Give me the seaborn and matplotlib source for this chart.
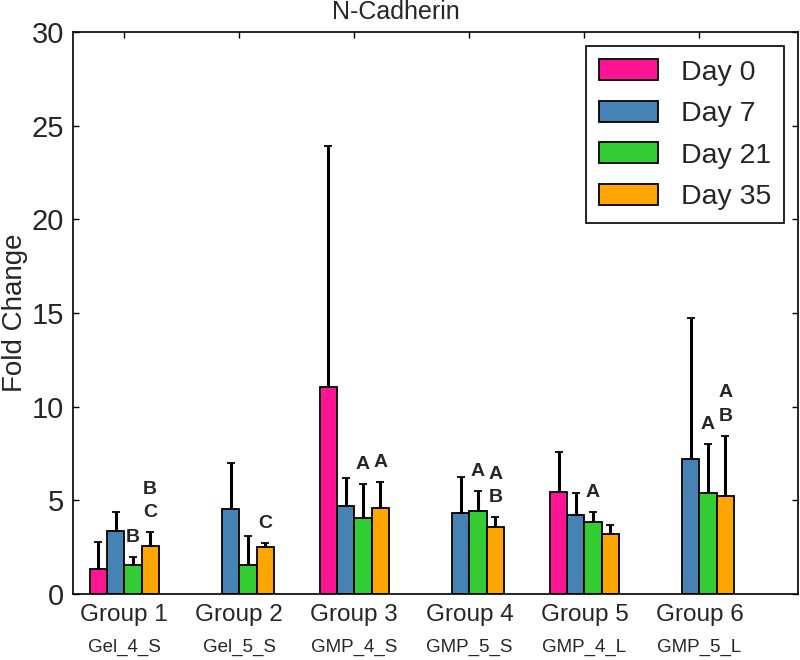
import numpy as np
import pandas as pd
import matplotlib
matplotlib.use("Agg")
import matplotlib.pyplot as plt
import seaborn as sns

groups = ["Group 1", "Group 2", "Group 3", "Group 4", "Group 5", "Group 6"]
sublabels = ["Gel_4_S", "Gel_5_S", "GMP_4_S", "GMP_5_S", "GMP_4_L", "GMP_5_L"]
days = ["Day 0", "Day 7", "Day 21", "Day 35"]

day0 = [1.33, np.nan, 11.07, np.nan, 5.46, np.nan]
day7 = [3.36, 4.54, 4.70, 4.31, 4.22, 7.19]
day21 = [1.55, 1.55, 4.06, 4.45, 3.83, 5.39]
day35 = [2.56, 2.49, 4.61, 3.58, 3.20, 5.23]

sd0 = [1.45, np.nan, 12.87, np.nan, 2.14, np.nan]
sd7 = [1.03, 2.44, 1.49, 1.95, 1.19, 7.53]
sd21 = [0.43, 1.53, 1.83, 1.07, 0.57, 2.60]
sd35 = [0.73, 0.25, 1.37, 0.51, 0.48, 3.22]

letters21 = ["B", "", "A", "A", "A", "A"]
letters35 = ["B\nC", "C", "A", "A\nB", "", "A\nB"]

colors = ["#FF1493", "#4682B4", "#32CD32", "#FFA500"]

values = [day0, day7, day21, day35]
sds = [sd0, sd7, sd21, sd35]
letters = [[""] * 6, [""] * 6, letters21, letters35]

rows = []
for d, vals, errs, labs in zip(days, values, sds, letters):
    for g, v, e, l in zip(groups, vals, errs, labs):
        rows.append({"group": g, "day": d, "value": v, "sd": e, "label": l})
df = pd.DataFrame(rows)

sns.set_style("ticks")
plt.rcParams["font.family"] = ["Liberation Sans", "DejaVu Sans"]

fig = plt.figure(figsize=(8, 6.6), dpi=100)
ax = fig.add_axes([0.091, 0.1, 0.9065, 0.8515])

sns.barplot(data=df, x="group", y="value", hue="day", order=groups,
            hue_order=days, palette=colors, width=0.6, edgecolor="black",
            linewidth=1.3, errorbar=None, ax=ax, saturation=1)

lookup = {(r.group, r.day): r for r in df.itertuples()}
for cont, d in zip(ax.containers, days):
    for patch in cont.patches:
        h = patch.get_height()
        if not np.isfinite(h) or h == 0:
            continue
        xc = patch.get_x() + patch.get_width() / 2
        gi = int(round(xc))
        r = lookup[(groups[gi], d)]
        ax.errorbar(xc, r.value, yerr=[[0], [r.sd]], fmt="none",
                    ecolor="black", elinewidth=2.2, capsize=3.2,
                    capthick=1.3, zorder=1)
        top = r.value + r.sd
        if r.label:
            for k, ch in enumerate(reversed(r.label.split("\n"))):
                ax.annotate(ch, xy=(xc, top), xytext=(0, 19.5 + 23.5 * k),
                            textcoords="offset pixels", ha="center",
                            va="center", fontsize=14, fontweight="bold")

ax.set_ylim(0, 30)
ax.set_xlim(-0.448, 5.857)
ax.set_yticks(np.arange(0, 31, 5))
ax.set_xticks(range(len(groups)))
ax.set_xticklabels(groups, fontsize=17.5)
ax.tick_params(axis="y", labelsize=21, pad=6.5)
ax.tick_params(axis="x", pad=7)
ax.tick_params(direction="in", top=True, right=True, length=4, width=1,
               color="black")
for s in ax.spines.values():
    s.set_visible(True)
    s.set_color("black")
    s.set_linewidth(1.2)

for i, sl in enumerate(sublabels):
    ax.annotate(sl, xy=(i, 0), xycoords=("data", "axes fraction"),
                xytext=(0, -53), textcoords="offset pixels", ha="center",
                va="center", fontsize=13.5)

ax.set_xlabel("")
ax.set_ylabel("Fold Change", fontsize=20)
ax.yaxis.set_label_coords(-0.08, 0.5)
ax.yaxis.label.set_verticalalignment("center")
fig.text(0.495, 0.982, "N-Cadherin", ha="center", va="center", fontsize=18)

leg = ax.legend(loc="upper right", fontsize=20.5, frameon=True, fancybox=False,
                edgecolor="black", handlelength=2.07, handleheight=0.76,
                handletextpad=0.8, labelspacing=0.53, borderpad=0.45,
                borderaxespad=0.5)
leg.get_frame().set_linewidth(1.2)
leg.get_frame().set_alpha(1)

fig.savefig("out.png", dpi=100)
